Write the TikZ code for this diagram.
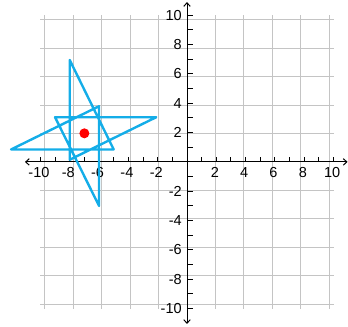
\documentclass[tikz,border=0pt]{standalone}
\usepackage{fontspec}
\setmainfont{Liberation Sans}
\usepackage{tikz}
\usetikzlibrary{arrows.meta}
\definecolor{GridGray}{HTML}{C4C4C4}
\definecolor{StarBlue}{HTML}{14ADE8}
\definecolor{DotRed}{HTML}{FF0000}

\begin{document}
\begin{tikzpicture}[
  x=14.66pt,y=14.66pt,
  >={Straight Barb[length=3.5pt,width=6.5pt]},
  gridline/.style={draw=GridGray,line width=1pt},
  axis/.style={draw=black,line width=1pt,<->},
  tickmark/.style={draw=black,line width=1pt},
  numlab/.style={font=\fontsize{14.5}{16}\selectfont,inner sep=0pt},
  star/.style={draw=StarBlue,line width=2.4pt,line join=round},
  dot/.style={circle,fill=DotRed,minimum size=10pt,inner sep=0pt}
]
\useasboundingbox (-12.756,-11.26) rectangle (10.982,11.045);
\draw[gridline] (-10,-10) grid (10,10);

\coordinate (xmin) at (-11.05,0);
\coordinate (xmax) at (10.95,0);
\coordinate (ymin) at (0,-11.05);
\coordinate (ymax) at (0,10.9);
\draw[axis] (xmin) -- (xmax);
\draw[axis] (ymin) -- (ymax);
\foreach \t in {-10,...,-1,1,2,...,10} {
  \draw[tickmark] (\t,0) -- (\t,0.35);
  \draw[tickmark] (0,\t) -- (0.4,\t);
}
\foreach \t [count=\i] in {-10,-8,-6,-4,-2,2,4,6,8,10} {
  \node[numlab,anchor=north] (xlab\i) at (\t-0.1,-0.38) {\t};
  \node[numlab,anchor=east] (ylab\i) at (-0.35,\t) {\t};
}

% star outline
\draw[star] (-8,6.95) -- (-5,0.85) -- (-12,0.85) -- (-6,3.8) -- (-6,-3) -- (-9,3.05) -- (-2.1,3.05) -- (-8,0.15) -- cycle;
\node[dot] (centre) at (-7,1.95) {};
\end{tikzpicture}
\end{document}
